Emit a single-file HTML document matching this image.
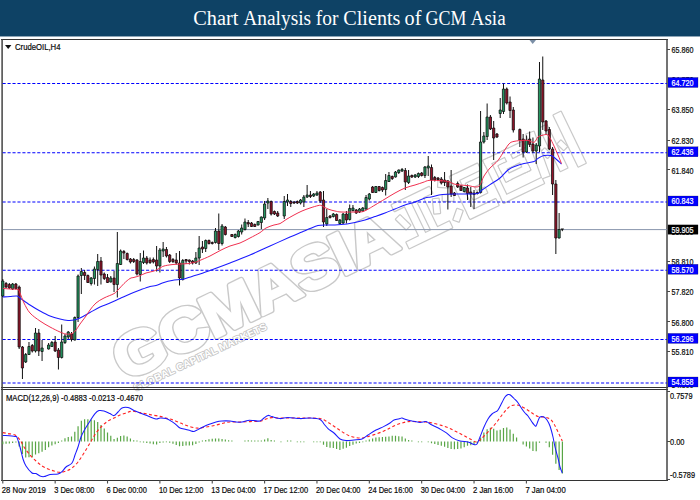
<!DOCTYPE html>
<html>
<head>
<meta charset="utf-8">
<title>Chart Analysis for Clients of GCM Asia</title>
<style>
html,body{margin:0;padding:0;background:#ffffff;}
body{width:700px;height:500px;position:relative;overflow:hidden;font-family:"Liberation Sans",sans-serif;}
#hdr{position:absolute;left:0;top:0;width:700px;height:36px;background:#0e4265;border-bottom:1px solid #8ea6b7;}
</style>
</head>
<body>
<div id="hdr"></div>
<svg width="700" height="500" viewBox="0 0 700 500" style="position:absolute;left:0;top:0">
<g id="wm" font-family="Liberation Sans, sans-serif" font-weight="bold">
<g transform="translate(125 381.5) rotate(-25.8) scale(1.12 1)"><text x="0" y="0" font-size="60" letter-spacing="-1.5" fill="#c9c9c9" stroke="#c9c9c9" stroke-width="5.2" stroke-linejoin="round">GCMASIA</text></g>
<g transform="translate(125 381.5) rotate(-25.8) scale(1.12 1)"><text x="0" y="0" font-size="60" letter-spacing="-1.5" fill="#ffffff" stroke="#ffffff" stroke-width="2.6" stroke-linejoin="round">GCMASIA</text></g>
<g transform="translate(125 381.5) rotate(-25.8)">
<g fill="#c9c9c9" stroke="#c9c9c9" stroke-width="2.4" stroke-linejoin="round"><rect x="316.85" y="-42.75" width="41.8" height="6.65"/><rect x="314" y="-2.85" width="47.5" height="6.65"/><rect x="328.25" y="-38" width="6.65" height="38"/><rect x="341.55" y="-38" width="6.65" height="38"/><rect x="316.85" y="-29.45" width="5.7" height="14.25" transform="rotate(-20 319.7 -22.32)"/><rect x="353.9" y="-29.45" width="5.7" height="14.25" transform="rotate(20 356.75 -22.32)"/><rect x="367.4" y="-41.8" width="10.45" height="5.7" transform="rotate(30 372.62 -38.95)"/><rect x="365.5" y="-27.55" width="10.45" height="5.7" transform="rotate(25 370.73 -24.7)"/><rect x="366.45" y="-7.6" width="11.4" height="5.7" transform="rotate(-45 372.15 -4.75)"/><rect x="381.65" y="-42.75" width="30.4" height="6.65"/><rect x="381.65" y="-42.75" width="6.65" height="45.6"/><rect x="381.65" y="-2.85" width="31.35" height="6.65"/><rect x="393.05" y="-29.45" width="15.2" height="5.7"/><rect x="393.05" y="-18.05" width="15.2" height="5.7"/><rect x="393.05" y="-29.45" width="5.7" height="17.1"/><rect x="418.9" y="-42.75" width="43.7" height="5.7"/><rect x="418.9" y="-42.75" width="5.7" height="46.55"/><rect x="418.9" y="-1.9" width="44.65" height="5.7"/><rect x="430.3" y="-31.35" width="26.6" height="5.7"/><rect x="430.3" y="-19.95" width="26.6" height="5.7"/><rect x="430.3" y="-31.35" width="5.7" height="17.1"/><rect x="451.2" y="-31.35" width="5.7" height="17.1"/><rect x="439.8" y="-42.75" width="5.7" height="17.1"/><rect x="466.6" y="-47.5" width="7.6" height="46.55" transform="rotate(6 470.4 -24.23)"/><rect x="483.7" y="-47.5" width="7.6" height="47.5"/><rect x="501.75" y="-53.2" width="8.07" height="57"/><rect x="476.1" y="-26.6" width="4.75" height="8.55" transform="rotate(-20 478.48 -22.32)"/><rect x="494.15" y="-26.6" width="4.75" height="8.55" transform="rotate(-20 496.52 -22.32)"/></g>
<g fill="#ffffff" stroke="none"><rect x="316.85" y="-42.75" width="41.8" height="6.65"/><rect x="314" y="-2.85" width="47.5" height="6.65"/><rect x="328.25" y="-38" width="6.65" height="38"/><rect x="341.55" y="-38" width="6.65" height="38"/><rect x="316.85" y="-29.45" width="5.7" height="14.25" transform="rotate(-20 319.7 -22.32)"/><rect x="353.9" y="-29.45" width="5.7" height="14.25" transform="rotate(20 356.75 -22.32)"/><rect x="367.4" y="-41.8" width="10.45" height="5.7" transform="rotate(30 372.62 -38.95)"/><rect x="365.5" y="-27.55" width="10.45" height="5.7" transform="rotate(25 370.73 -24.7)"/><rect x="366.45" y="-7.6" width="11.4" height="5.7" transform="rotate(-45 372.15 -4.75)"/><rect x="381.65" y="-42.75" width="30.4" height="6.65"/><rect x="381.65" y="-42.75" width="6.65" height="45.6"/><rect x="381.65" y="-2.85" width="31.35" height="6.65"/><rect x="393.05" y="-29.45" width="15.2" height="5.7"/><rect x="393.05" y="-18.05" width="15.2" height="5.7"/><rect x="393.05" y="-29.45" width="5.7" height="17.1"/><rect x="418.9" y="-42.75" width="43.7" height="5.7"/><rect x="418.9" y="-42.75" width="5.7" height="46.55"/><rect x="418.9" y="-1.9" width="44.65" height="5.7"/><rect x="430.3" y="-31.35" width="26.6" height="5.7"/><rect x="430.3" y="-19.95" width="26.6" height="5.7"/><rect x="430.3" y="-31.35" width="5.7" height="17.1"/><rect x="451.2" y="-31.35" width="5.7" height="17.1"/><rect x="439.8" y="-42.75" width="5.7" height="17.1"/><rect x="466.6" y="-47.5" width="7.6" height="46.55" transform="rotate(6 470.4 -24.23)"/><rect x="483.7" y="-47.5" width="7.6" height="47.5"/><rect x="501.75" y="-53.2" width="8.07" height="57"/><rect x="476.1" y="-26.6" width="4.75" height="8.55" transform="rotate(-20 478.48 -22.32)"/><rect x="494.15" y="-26.6" width="4.75" height="8.55" transform="rotate(-20 496.52 -22.32)"/></g>
</g>
<g transform="translate(135.5 391.5) rotate(-25.3)"><text x="0" y="0" font-size="10.2" textLength="146" lengthAdjust="spacingAndGlyphs" stroke-width="1.7" fill="#c6c6c6" stroke="#c6c6c6" stroke-linejoin="round">GLOBAL CAPITAL MARKETS</text>
<text x="0" y="0" font-size="10.2" textLength="146" lengthAdjust="spacingAndGlyphs" fill="#ffffff">GLOBAL CAPITAL MARKETS</text></g>
</g>
<g fill="none" stroke="#444444">
<path d="M1 39.5 H667.5 M1 387.5 H667.5 M1 389.5 H667.5 M1 480.5 H668" stroke="#333" stroke-width="1" shape-rendering="crispEdges"/>
<path d="M2.1 39 V481" stroke-width="1.5"/>
<path d="M667 39 V481" stroke-width="1.5"/>
</g>
<path d="M3 229.6 H667" stroke="#8895ad" stroke-width="1" fill="none"/>
<path d="M2.6 83.5 H667" stroke="#0000ff" stroke-width="1.05" stroke-dasharray="3.09 1.856" fill="none"/>
<path d="M2.6 152.8 H667" stroke="#0000ff" stroke-width="1.05" stroke-dasharray="3.09 1.856" fill="none"/>
<path d="M2.6 202 H667" stroke="#0000ff" stroke-width="1.05" stroke-dasharray="3.09 1.856" fill="none"/>
<path d="M2.6 270.3 H667" stroke="#0000ff" stroke-width="1.05" stroke-dasharray="3.09 1.856" fill="none"/>
<path d="M2.6 339.4 H667" stroke="#0000ff" stroke-width="1.05" stroke-dasharray="3.09 1.856" fill="none"/>
<path d="M2.6 383 H667" stroke="#0000ff" stroke-width="1.05" stroke-dasharray="3.09 1.856" fill="none"/>
<path d="M2.8 279 V297 M6.07 282 V288 M9.34 283 V289 M12.62 283 V290 M15.89 283 V289.5 M19.16 285.5 V349 M22.43 346 V379 M25.71 353 V363 M28.98 342 V355 M32.25 344 V352.5 M35.52 328 V352.5 M38.8 329 V356 M42.07 340 V361 M48.61 343 V349.5 M51.89 341 V347 M55.16 336 V352 M58.43 348 V369.5 M61.7 324.5 V358.5 M64.98 334 V344 M68.25 331 V339 M71.52 332 V341.5 M74.8 316.5 V340.5 M78.07 274.5 V322 M81.34 268 V294 M84.61 270 V280 M87.88 274.5 V283 M91.16 277 V285.5 M94.43 266.5 V284.5 M97.7 254 V286 M100.97 257 V284.5 M104.25 272.5 V280 M107.52 274 V283 M110.79 276 V282.5 M114.06 271 V292 M117.34 232 V297.5 M120.61 249.5 V265 M123.88 250 V259 M127.16 252.5 V260.5 M130.43 258 V263.5 M133.7 258 V263 M136.97 259 V275.5 M140.25 253 V281.5 M143.52 250.5 V264 M146.79 256 V264.5 M150.06 257.5 V264 M153.34 257.5 V263.5 M156.61 246 V271.5 M159.88 248 V272.5 M163.15 242 V257 M166.43 247 V257.5 M169.7 254 V263 M172.97 258 V263 M176.24 253 V264.5 M179.52 251 V285.5 M182.79 259 V280.5 M186.06 259 V264 M189.33 259.5 V264.5 M192.61 260 V264.5 M195.88 252 V264 M199.15 236 V265 M202.42 241 V253 M205.7 239.5 V252 M208.97 239.5 V244.5 M212.24 241.5 V244.5 M215.51 228 V243.5 M218.78 213.5 V250 M222.06 224 V245.5 M225.33 226 V235.5 M231.88 234 V237 M235.15 233.5 V238.5 M238.42 230 V237.5 M241.69 224.5 V234.5 M244.97 218.5 V230.5 M248.24 220 V227 M251.51 222 V227 M254.78 223.5 V227 M258.06 221 V225.5 M261.33 216.5 V229 M264.6 201 V220 M267.87 198 V209 M271.14 200.5 V215.5 M274.42 210.5 V215 M277.69 211 V217 M284.24 196 V219 M287.51 194 V206 M290.78 200 V207 M294.05 201 V204 M297.32 200.5 V204 M300.6 199 V204.5 M303.87 195 V207 M307.14 185 V198 M310.42 191 V198 M313.69 193 V197 M316.96 191 V196 M320.23 191 V203 M323.5 191 V227 M326.78 209 V226 M330.05 215 V218.5 M333.32 213 V217.5 M336.6 213.5 V221 M339.87 219 V224.5 M343.14 213 V224 M346.41 211 V223.5 M349.69 204.5 V220.5 M352.96 205 V211.5 M356.23 209 V214 M359.5 208 V213 M362.78 207 V212 M366.05 195 V210 M369.32 193 V200.5 M372.59 186 V193 M375.87 186 V193 M379.14 186 V191.5 M382.41 186.5 V192 M385.68 174 V195.5 M388.95 172 V182 M392.23 175.5 V180 M395.5 171 V177.5 M398.77 169.5 V174 M402.05 168 V172 M405.32 168 V190 M408.59 170 V184 M411.86 174.5 V178 M415.13 174 V178 M418.41 172.5 V178 M421.68 172 V176.5 M424.95 166 V178 M428.23 156 V176 M431.5 164.5 V195 M434.77 176 V181.5 M438.04 177 V180 M441.31 177 V184.5 M444.59 172 V186 M447.86 180 V209.5 M451.13 170 V197 M454.41 192 V196 M457.68 181.5 V188 M460.95 185 V191 M464.22 187 V192.5 M467.5 184.5 V200 M470.77 187 V207 M474.04 190 V209 M477.31 191.5 V194.5 M480.58 111 V193.5 M483.86 132 V143.5 M487.13 103.5 V140 M490.4 115 V130 M493.68 121 V160 M496.95 133 V138 M500.22 98 V118 M503.49 83.5 V114 M506.76 87.5 V104.5 M510.04 96.5 V118 M513.31 107 V132.5 M519.85 128.5 V147 M523.13 134 V157.5 M526.4 135.5 V153 M529.67 131.5 V147 M532.94 137.5 V153 M536.22 143 V164 M539.49 62 V152 M542.76 56.5 V130 M546.03 120 V135 M549.31 127 V150 M552.58 147 V195 M555.85 180 V254 M559.12 213 V238.5" stroke="#111" stroke-width="1" fill="none"/>
<path d="M1.7 281 h2.2 V296 h-2.2 Z M11.52 284 h2.2 V289 h-2.2 Z M24.61 354.5 h2.2 V362 h-2.2 Z M27.88 346.5 h2.2 V354.5 h-2.2 Z M34.42 333 h2.2 V351 h-2.2 Z M40.97 348 h2.2 V351.5 h-2.2 Z M47.51 345 h2.2 V349 h-2.2 Z M50.79 342.5 h2.2 V346.5 h-2.2 Z M60.6 342 h2.2 V357.5 h-2.2 Z M63.88 336 h2.2 V342.5 h-2.2 Z M67.15 332 h2.2 V337 h-2.2 Z M73.7 317.5 h2.2 V340 h-2.2 Z M76.97 276 h2.2 V317.5 h-2.2 Z M80.24 271.5 h2.2 V275.5 h-2.2 Z M90.06 278 h2.2 V283.5 h-2.2 Z M93.33 269 h2.2 V278.5 h-2.2 Z M96.6 261.5 h2.2 V269.5 h-2.2 Z M109.69 278 h2.2 V282 h-2.2 Z M116.24 263.5 h2.2 V284.5 h-2.2 Z M119.51 251 h2.2 V264.5 h-2.2 Z M139.15 261.5 h2.2 V274.5 h-2.2 Z M142.42 258 h2.2 V262.5 h-2.2 Z M158.78 250 h2.2 V266 h-2.2 Z M162.05 249 h2.2 V251 h-2.2 Z M181.69 260.5 h2.2 V279.5 h-2.2 Z M194.78 258 h2.2 V263 h-2.2 Z M198.05 248 h2.2 V258 h-2.2 Z M204.6 240.5 h2.2 V248.5 h-2.2 Z M214.41 231 h2.2 V242.5 h-2.2 Z M220.96 226 h2.2 V243.5 h-2.2 Z M234.05 234.5 h2.2 V237.5 h-2.2 Z M237.32 231 h2.2 V236.5 h-2.2 Z M240.59 228 h2.2 V232 h-2.2 Z M243.87 222 h2.2 V229.5 h-2.2 Z M256.95 221.5 h2.2 V225 h-2.2 Z M260.23 217 h2.2 V222.5 h-2.2 Z M263.5 204 h2.2 V218 h-2.2 Z M266.77 201 h2.2 V203 h-2.2 Z M283.13 201.5 h2.2 V216 h-2.2 Z M286.41 200 h2.2 V202 h-2.2 Z M299.5 200 h2.2 V203 h-2.2 Z M302.77 197 h2.2 V202 h-2.2 Z M306.04 195 h2.2 V197 h-2.2 Z M312.59 194 h2.2 V196 h-2.2 Z M315.86 193 h2.2 V195 h-2.2 Z M325.68 217.5 h2.2 V224 h-2.2 Z M332.22 214 h2.2 V216.5 h-2.2 Z M338.77 220 h2.2 V223.5 h-2.2 Z M342.04 214 h2.2 V223 h-2.2 Z M348.58 208.5 h2.2 V219.5 h-2.2 Z M351.86 208 h2.2 V210.5 h-2.2 Z M358.4 209 h2.2 V212 h-2.2 Z M361.68 208 h2.2 V211 h-2.2 Z M364.95 197.5 h2.2 V209 h-2.2 Z M368.22 194 h2.2 V199 h-2.2 Z M374.76 186.5 h2.2 V192.5 h-2.2 Z M384.58 180.5 h2.2 V189.5 h-2.2 Z M387.85 175.5 h2.2 V181.5 h-2.2 Z M394.4 172 h2.2 V177 h-2.2 Z M397.67 170 h2.2 V172.5 h-2.2 Z M400.94 169.5 h2.2 V171 h-2.2 Z M407.49 176 h2.2 V182.5 h-2.2 Z M414.03 175 h2.2 V177 h-2.2 Z M417.31 173.5 h2.2 V176.5 h-2.2 Z M423.85 167 h2.2 V175.5 h-2.2 Z M427.12 166 h2.2 V168 h-2.2 Z M463.12 187.5 h2.2 V191.5 h-2.2 Z M479.48 142 h2.2 V192.5 h-2.2 Z M482.76 136 h2.2 V142 h-2.2 Z M486.03 117 h2.2 V136.5 h-2.2 Z M499.12 110 h2.2 V113.5 h-2.2 Z M502.39 89 h2.2 V111.5 h-2.2 Z M525.3 140 h2.2 V152 h-2.2 Z M535.12 145 h2.2 V151 h-2.2 Z M538.39 79 h2.2 V146 h-2.2 Z M558.02 229.5 h2.2 V238 h-2.2 Z" fill="#249660" stroke="#0c0c0c" stroke-width="0.75"/>
<path d="M4.97 283.5 h2.2 V287 h-2.2 Z M8.24 284.5 h2.2 V288 h-2.2 Z M14.79 284 h2.2 V288.5 h-2.2 Z M18.06 287 h2.2 V347 h-2.2 Z M21.33 347 h2.2 V368 h-2.2 Z M31.15 345.5 h2.2 V351 h-2.2 Z M37.7 333 h2.2 V351 h-2.2 Z M54.06 342 h2.2 V351 h-2.2 Z M57.33 350 h2.2 V357.5 h-2.2 Z M70.42 334 h2.2 V339.5 h-2.2 Z M83.51 272.5 h2.2 V275.5 h-2.2 Z M86.78 275.5 h2.2 V282.5 h-2.2 Z M99.88 261 h2.2 V275 h-2.2 Z M103.15 274 h2.2 V278.5 h-2.2 Z M106.42 277.5 h2.2 V282.5 h-2.2 Z M112.97 278 h2.2 V284.5 h-2.2 Z M122.78 251.5 h2.2 V253 h-2.2 Z M126.06 253.5 h2.2 V259.5 h-2.2 Z M129.33 259 h2.2 V262 h-2.2 Z M132.6 259.5 h2.2 V261.5 h-2.2 Z M135.87 260 h2.2 V274 h-2.2 Z M145.69 258 h2.2 V263 h-2.2 Z M148.96 260 h2.2 V262.5 h-2.2 Z M152.24 259.5 h2.2 V262 h-2.2 Z M155.51 260 h2.2 V266 h-2.2 Z M165.33 249.5 h2.2 V256 h-2.2 Z M168.6 255 h2.2 V261.5 h-2.2 Z M171.87 259.5 h2.2 V261.5 h-2.2 Z M175.14 260 h2.2 V263 h-2.2 Z M178.42 263 h2.2 V278 h-2.2 Z M184.96 259.5 h2.2 V261 h-2.2 Z M188.23 260 h2.2 V261.5 h-2.2 Z M191.51 261 h2.2 V263 h-2.2 Z M201.32 247 h2.2 V249 h-2.2 Z M207.87 240.5 h2.2 V243.5 h-2.2 Z M211.14 242.5 h2.2 V243.5 h-2.2 Z M217.69 231 h2.2 V243.5 h-2.2 Z M224.23 227 h2.2 V234.5 h-2.2 Z M230.78 234.5 h2.2 V236.5 h-2.2 Z M247.14 222.5 h2.2 V224 h-2.2 Z M250.41 223 h2.2 V226.5 h-2.2 Z M253.68 224.5 h2.2 V226.5 h-2.2 Z M270.04 201.5 h2.2 V214 h-2.2 Z M273.32 211.5 h2.2 V214 h-2.2 Z M276.59 213 h2.2 V216 h-2.2 Z M289.68 201.5 h2.2 V203.5 h-2.2 Z M292.95 202 h2.2 V203 h-2.2 Z M296.22 201.5 h2.2 V203 h-2.2 Z M309.31 195 h2.2 V196.5 h-2.2 Z M319.13 192 h2.2 V201 h-2.2 Z M322.4 200 h2.2 V222 h-2.2 Z M328.95 216 h2.2 V217.5 h-2.2 Z M335.5 214.5 h2.2 V220.5 h-2.2 Z M345.31 214 h2.2 V220 h-2.2 Z M355.13 210 h2.2 V213 h-2.2 Z M371.49 187 h2.2 V192.5 h-2.2 Z M378.04 186.5 h2.2 V190.5 h-2.2 Z M381.31 187.5 h2.2 V190 h-2.2 Z M391.13 176.5 h2.2 V178.5 h-2.2 Z M404.22 170.5 h2.2 V182 h-2.2 Z M410.76 175.5 h2.2 V177 h-2.2 Z M420.58 173 h2.2 V175.5 h-2.2 Z M430.4 167.5 h2.2 V180 h-2.2 Z M433.67 177.5 h2.2 V180 h-2.2 Z M436.94 178 h2.2 V179.5 h-2.2 Z M440.21 179 h2.2 V183 h-2.2 Z M443.49 180 h2.2 V182.5 h-2.2 Z M446.76 181 h2.2 V187 h-2.2 Z M450.03 186 h2.2 V194 h-2.2 Z M453.31 193 h2.2 V195.5 h-2.2 Z M456.58 183.5 h2.2 V187 h-2.2 Z M459.85 186 h2.2 V190.5 h-2.2 Z M466.39 188 h2.2 V193.5 h-2.2 Z M469.67 192 h2.2 V194 h-2.2 Z M472.94 193 h2.2 V194.5 h-2.2 Z M476.21 192.5 h2.2 V193.5 h-2.2 Z M489.3 117 h2.2 V129 h-2.2 Z M492.57 128 h2.2 V138 h-2.2 Z M495.85 134 h2.2 V137 h-2.2 Z M505.66 89 h2.2 V103 h-2.2 Z M508.94 102 h2.2 V110.5 h-2.2 Z M512.21 110 h2.2 V130 h-2.2 Z M518.75 129.5 h2.2 V140 h-2.2 Z M522.03 139 h2.2 V152 h-2.2 Z M528.57 139 h2.2 V144.5 h-2.2 Z M531.84 144 h2.2 V151 h-2.2 Z M541.66 80 h2.2 V122 h-2.2 Z M544.93 121 h2.2 V131 h-2.2 Z M548.21 129.5 h2.2 V149 h-2.2 Z M551.48 149 h2.2 V184 h-2.2 Z M554.75 184 h2.2 V238 h-2.2 Z" fill="#93142a" stroke="#0c0c0c" stroke-width="0.75"/>
<path d="M560.6 228.6 H564 L562.3 231.4 Z" fill="#111"/>
<path d="M2.8 297 C4 296.9 7.63 296.57 10 296.4 C12.37 296.23 15.33 295.73 17 296 C18.67 296.27 17.83 296.5 20 298 C22.17 299.5 26.67 302.83 30 305 C33.33 307.17 36.67 309.17 40 311 C43.33 312.83 46.67 314.67 50 316 C53.33 317.33 57 318.27 60 319 C63 319.73 65.67 320.23 68 320.4 C70.33 320.57 72 320.4 74 320 C76 319.6 77.33 319.25 80 318 C82.67 316.75 86.67 314.33 90 312.5 C93.33 310.67 96.67 308.58 100 307 C103.33 305.42 106.67 304.42 110 303 C113.33 301.58 116.67 300 120 298.5 C123.33 297 126.67 295.42 130 294 C133.33 292.58 136.67 291.27 140 290 C143.33 288.73 147.33 287.13 150 286.4 C152.67 285.67 153.67 286.27 156 285.6 C158.33 284.93 161.33 283.27 164 282.4 C166.67 281.53 169.33 280.87 172 280.4 C174.67 279.93 178 279.83 180 279.6 C182 279.37 182 279.53 184 279 C186 278.47 189.33 277.23 192 276.4 C194.67 275.57 196.33 275.23 200 274 C203.67 272.77 209 270.83 214 269 C219 267.17 224 265.33 230 263 C236 260.67 243.33 257.83 250 255 C256.67 252.17 263.33 249 270 246 C276.67 243 284.67 239.33 290 237 C295.33 234.67 298.67 233.4 302 232 C305.33 230.6 307.33 229.67 310 228.6 C312.67 227.53 315.33 226.2 318 225.6 C320.67 225 323.17 225.1 326 225 C328.83 224.9 331.5 225.17 335 225 C338.5 224.83 343.67 224.4 347 224 C350.33 223.6 352 223.27 355 222.6 C358 221.93 361.67 221 365 220 C368.33 219 371.67 217.77 375 216.6 C378.33 215.43 381.67 214.27 385 213 C388.33 211.73 391.67 210.33 395 209 C398.33 207.67 401.67 206.17 405 205 C408.33 203.83 411.67 203.17 415 202 C418.33 200.83 422.33 198.83 425 198 C427.67 197.17 428.67 197.5 431 197 C433.33 196.5 436.33 195.47 439 195 C441.67 194.53 443.5 194.37 447 194.2 C450.5 194.03 455 194.1 460 194 C465 193.9 473.33 194.27 477 193.6 C480.67 192.93 479.83 191.5 482 190 C484.17 188.5 487 186.6 490 184.6 C493 182.6 497 180.43 500 178 C503 175.57 505.33 172 508 170 C510.67 168 513.33 167.07 516 166 C518.67 164.93 521 164.33 524 163.6 C527 162.87 531.67 162.47 534 161.6 C536.33 160.73 536.33 159.4 538 158.4 C539.67 157.4 541.83 156.07 544 155.6 C546.17 155.13 549 155.03 551 155.6 C553 156.17 554.25 157.6 556 159 C557.75 160.4 560.58 163.17 561.5 164" stroke="#1a1aff" stroke-width="1.05" fill="none" stroke-linejoin="round"/>
<path d="M2.8 288.4 C4 288.5 7.47 288.8 10 289 C12.53 289.2 16.33 288.93 18 289.6 C19.67 290.27 19 290.77 20 293 C21 295.23 22.33 299.67 24 303 C25.67 306.33 27.33 310 30 313 C32.67 316 36.67 318.67 40 321 C43.33 323.33 46.67 325.17 50 327 C53.33 328.83 57.33 330.83 60 332 C62.67 333.17 64 333.73 66 334 C68 334.27 70.33 334.27 72 333.6 C73.67 332.93 74.67 331.6 76 330 C77.33 328.4 78.33 326.33 80 324 C81.67 321.67 84.33 318.33 86 316 C87.67 313.67 88.33 312.17 90 310 C91.67 307.83 93.67 305 96 303 C98.33 301 101 299.57 104 298 C107 296.43 111.67 294.93 114 293.6 C116.33 292.27 116.33 291.68 118 290 C119.67 288.32 122 285.42 124 283.5 C126 281.58 128.33 279.52 130 278.5 C131.67 277.48 132.33 277.88 134 277.4 C135.67 276.92 138 276.33 140 275.6 C142 274.87 143.67 273.77 146 273 C148.33 272.23 151.67 271.83 154 271 C156.33 270.17 158.33 268.83 160 268 C161.67 267.17 162 266.57 164 266 C166 265.43 169.33 264.93 172 264.6 C174.67 264.27 177.33 264.17 180 264 C182.67 263.83 185.33 263.93 188 263.6 C190.67 263.27 194 262.53 196 262 C198 261.47 197.67 261.4 200 260.4 C202.33 259.4 206.67 257.63 210 256 C213.33 254.37 216.67 252.27 220 250.6 C223.33 248.93 226.67 247.27 230 246 C233.33 244.73 236.67 244.33 240 243 C243.33 241.67 246.67 239.73 250 238 C253.33 236.27 257.33 234.27 260 232.6 C262.67 230.93 263.67 229.27 266 228 C268.33 226.73 271.67 225.73 274 225 C276.33 224.27 278 224.5 280 223.6 C282 222.7 283.67 221.03 286 219.6 C288.33 218.17 291.33 216.43 294 215 C296.67 213.57 299.33 212.17 302 211 C304.67 209.83 307.33 208.9 310 208 C312.67 207.1 316.17 206.03 318 205.6 C319.83 205.17 320 205.17 321 205.4 C322 205.63 322.67 206.33 324 207 C325.33 207.67 327.17 208.73 329 209.4 C330.83 210.07 333 210.57 335 211 C337 211.43 337.67 211.83 341 212 C344.33 212.17 351.33 212.07 355 212 C358.67 211.93 360.67 212.17 363 211.6 C365.33 211.03 367 209.7 369 208.6 C371 207.5 372.33 206.6 375 205 C377.67 203.4 381.67 201 385 199 C388.33 197 391.67 194.83 395 193 C398.33 191.17 401.67 189.33 405 188 C408.33 186.67 412 185.93 415 185 C418 184.07 420.67 183.17 423 182.4 C425.33 181.63 426.33 180.7 429 180.4 C431.67 180.1 435.83 180.43 439 180.6 C442.17 180.77 445.5 180.83 448 181.4 C450.5 181.97 452 183.4 454 184 C456 184.6 457.67 184.73 460 185 C462.33 185.27 465.33 185.27 468 185.6 C470.67 185.93 474 187.1 476 187 C478 186.9 478.67 186.83 480 185 C481.33 183.17 482.33 178.83 484 176 C485.67 173.17 488 170.23 490 168 C492 165.77 494.33 164.33 496 162.6 C497.67 160.87 498.33 160.03 500 157.6 C501.67 155.17 504.33 150.43 506 148 C507.67 145.57 508.67 144.1 510 143 C511.33 141.9 512.33 141.8 514 141.4 C515.67 141 517.67 140.77 520 140.6 C522.33 140.43 525.67 140.1 528 140.4 C530.33 140.7 532.33 142.97 534 142.4 C535.67 141.83 536.67 138.17 538 137 C539.33 135.83 540.5 135.8 542 135.4 C543.5 135 545.67 134.17 547 134.6 C548.33 135.03 548.83 136.1 550 138 C551.17 139.9 552.67 143.17 554 146 C555.33 148.83 556.75 152.07 558 155 C559.25 157.93 560.92 162.17 561.5 163.6" stroke="#f03050" stroke-width="1" fill="none" stroke-linejoin="round"/>
<path d="M2.8 441.4 V444.2 M6.07 441.4 V443.84 M9.34 441.4 V443.47 M12.62 441.4 V443.08 M15.89 441.4 V442.44 M19.16 441.4 V446.61 M22.43 441.4 V453.88 M25.71 441.4 V457.44 M28.98 441.4 V457.24 M32.25 441.4 V457.19 M35.52 441.4 V454.4 M38.8 441.4 V453.35 M42.07 441.4 V451.68 M45.34 441.4 V449.88 M48.61 441.4 V447.26 M51.89 441.4 V445.56 M55.16 441.4 V444.34 M58.43 441.4 V443.11 M61.7 441.4 V440.6 M64.98 441.4 V438.34 M68.25 441.4 V437.02 M71.52 441.4 V436.48 M74.8 441.4 V431.74 M78.07 441.4 V426.28 M81.34 441.4 V420.73 M84.61 441.4 V419.2 M87.88 441.4 V419.26 M91.16 441.4 V419.62 M94.43 441.4 V420.23 M97.7 441.4 V421.96 M100.97 441.4 V424.96 M104.25 441.4 V428.38 M107.52 441.4 V432.53 M110.79 441.4 V435.79 M114.06 441.4 V438.97 M117.34 441.4 V437.66 M120.61 441.4 V435.99 M123.88 441.4 V435.57 M127.16 441.4 V436.4 M130.43 441.4 V438.46 M133.7 441.4 V440.16 M136.97 441.4 V440.6 M140.25 441.4 V442.2 M143.52 441.4 V442.42 M146.79 441.4 V442.99 M150.06 441.4 V443.56 M153.34 441.4 V444.2 M156.61 441.4 V444.46 M159.88 441.4 V443.05 M163.15 441.4 V442.47 M166.43 441.4 V442.2 M169.7 441.4 V442.86 M172.97 441.4 V443.74 M176.24 441.4 V444.91 M179.52 441.4 V446.33 M182.79 441.4 V445.98 M186.06 441.4 V445.53 M189.33 441.4 V445.42 M192.61 441.4 V445.31 M195.88 441.4 V443.98 M199.15 441.4 V442.39 M202.42 441.4 V440.6 M205.7 441.4 V440.07 M208.97 441.4 V439.31 M212.24 441.4 V438.71 M215.51 441.4 V438.38 M218.78 441.4 V438.55 M222.06 441.4 V438.88 M225.33 441.4 V439.62 M228.6 441.4 V440.17 M231.88 441.4 V440.6 M244.97 441.4 V440.6 M248.24 441.4 V440.14 M251.51 441.4 V440.38 M254.78 441.4 V440.6 M258.06 441.4 V440.6 M261.33 441.4 V440.6 M264.6 441.4 V439.5 M267.87 441.4 V438.32 M271.14 441.4 V439.94 M274.42 441.4 V440.6 M280.96 441.4 V442.2 M287.51 441.4 V440.6 M290.78 441.4 V440.6 M297.32 441.4 V442.2 M300.6 441.4 V442.2 M303.87 441.4 V442.2 M313.69 441.4 V442.2 M316.96 441.4 V442.2 M320.23 441.4 V442.37 M323.5 441.4 V444.83 M326.78 441.4 V447.08 M330.05 441.4 V447.8 M333.32 441.4 V448.02 M336.6 441.4 V448.93 M339.87 441.4 V450.02 M343.14 441.4 V448.81 M346.41 441.4 V447.76 M349.69 441.4 V445.88 M352.96 441.4 V444.69 M356.23 441.4 V443.51 M359.5 441.4 V442.88 M362.78 441.4 V442.2 M366.05 441.4 V440.6 M369.32 441.4 V439.4 M372.59 441.4 V438.42 M375.87 441.4 V437.44 M379.14 441.4 V437.16 M382.41 441.4 V436.92 M385.68 441.4 V436.69 M388.95 441.4 V436.47 M392.23 441.4 V435.84 M395.5 441.4 V435.8 M398.77 441.4 V436.21 M402.05 441.4 V436.43 M405.32 441.4 V438.5 M408.59 441.4 V440 M411.86 441.4 V440.6 M418.41 441.4 V442.2 M421.68 441.4 V442.2 M428.23 441.4 V442.2 M431.5 441.4 V443.2 M434.77 441.4 V444.09 M438.04 441.4 V444.91 M441.31 441.4 V445.76 M444.59 441.4 V446.66 M447.86 441.4 V448 M451.13 441.4 V449.11 M454.41 441.4 V449.22 M457.68 441.4 V448.97 M460.95 441.4 V448.44 M464.22 441.4 V447.21 M467.5 441.4 V445.81 M470.77 441.4 V445.28 M474.04 441.4 V444.97 M477.31 441.4 V443.33 M480.58 441.4 V437.52 M483.86 441.4 V432.61 M487.13 441.4 V429.27 M490.4 441.4 V427.87 M493.68 441.4 V428.68 M496.95 441.4 V430.51 M500.22 441.4 V429.86 M503.49 441.4 V427.9 M506.76 441.4 V427.55 M510.04 441.4 V429.46 M513.31 441.4 V433.86 M516.58 441.4 V437.5 M523.13 441.4 V444.44 M526.4 441.4 V446.53 M529.67 441.4 V448.46 M532.94 441.4 V451.06 M536.22 441.4 V451.33 M539.49 441.4 V442.72 M546.03 441.4 V442.76 M549.31 441.4 V447.25 M552.58 441.4 V454.63 M555.85 441.4 V463.82 M559.12 441.4 V470.11 M562.4 441.4 V473.4" stroke="#58a545" stroke-width="1.2" fill="none"/>
<path d="M2.8 432.6 C3.67 432.77 5.97 433.2 8 433.6 C10.03 434 13 433.93 15 435 C17 436.07 18.5 438 20 440 C21.5 442 22.33 444.5 24 447 C25.67 449.5 28 452.67 30 455 C32 457.33 34 459.17 36 461 C38 462.83 40 464.67 42 466 C44 467.33 46 468.17 48 469 C50 469.83 52 470.43 54 471 C56 471.57 58 472.4 60 472.4 C62 472.4 64 471.73 66 471 C68 470.27 70 469.5 72 468 C74 466.5 76 464.5 78 462 C80 459.5 82 456.17 84 453 C86 449.83 88 446.33 90 443 C92 439.67 94 435.83 96 433 C98 430.17 100 428 102 426 C104 424 106 422.33 108 421 C110 419.67 112 419 114 418 C116 417 118 415.83 120 415 C122 414.17 124 413.63 126 413 C128 412.37 129.67 411.27 132 411.2 C134.33 411.13 137 412.03 140 412.6 C143 413.17 146.67 413.97 150 414.6 C153.33 415.23 157.33 415.83 160 416.4 C162.67 416.97 164 417.47 166 418 C168 418.53 170 418.93 172 419.6 C174 420.27 176 421.17 178 422 C180 422.83 182 423.83 184 424.6 C186 425.37 188 426.03 190 426.6 C192 427.17 194.33 427.77 196 428 C197.67 428.23 198.33 428.17 200 428 C201.67 427.83 204 427.33 206 427 C208 426.67 210 426.4 212 426 C214 425.6 216 425.1 218 424.6 C220 424.1 222 423.43 224 423 C226 422.57 227.33 422.17 230 422 C232.67 421.83 236.67 422.07 240 422 C243.33 421.93 246.67 421.73 250 421.6 C253.33 421.47 257.33 421.63 260 421.2 C262.67 420.77 264 419.6 266 419 C268 418.4 269.67 417.77 272 417.6 C274.33 417.43 275.33 417.93 280 418 C284.67 418.07 295 418 300 418 C305 418 306.67 417.9 310 418 C313.33 418.1 317.33 418.1 320 418.6 C322.67 419.1 324 419.93 326 421 C328 422.07 330 423.67 332 425 C334 426.33 336 427.67 338 429 C340 430.33 342 431.83 344 433 C346 434.17 348 435.23 350 436 C352 436.77 354 437.27 356 437.6 C358 437.93 360 438.17 362 438 C364 437.83 365.67 437.27 368 436.6 C370.33 435.93 373.33 434.93 376 434 C378.67 433.07 381.67 432 384 431 C386.33 430 388 429 390 428 C392 427 394 425.83 396 425 C398 424.17 400 423.57 402 423 C404 422.43 405.67 421.83 408 421.6 C410.33 421.37 413 421.53 416 421.6 C419 421.67 423.33 421.77 426 422 C428.67 422.23 429.67 422.5 432 423 C434.33 423.5 437.33 424.23 440 425 C442.67 425.77 445.33 426.5 448 427.6 C450.67 428.7 453.33 430.27 456 431.6 C458.67 432.93 461.33 434.2 464 435.6 C466.67 437 470 438.93 472 440 C474 441.07 474.67 442 476 442 C477.33 442 478.67 441 480 440 C481.33 439 482.33 437.67 484 436 C485.67 434.33 488 432.17 490 430 C492 427.83 494 425.5 496 423 C498 420.5 500 417.5 502 415 C504 412.5 506.33 409.57 508 408 C509.67 406.43 510.67 406.1 512 405.6 C513.33 405.1 514.67 404.97 516 405 C517.33 405.03 518.33 405.13 520 405.8 C521.67 406.47 524 407.8 526 409 C528 410.2 530 411.73 532 413 C534 414.27 536 415.93 538 416.6 C540 417.27 542 416.6 544 417 C546 417.4 548.33 417.83 550 419 C551.67 420.17 552.67 421.83 554 424 C555.33 426.17 556.62 429.17 558 432 C559.38 434.83 561.58 439.5 562.3 441" stroke="#ff2020" stroke-width="1.1" stroke-dasharray="3 2.4" fill="none"/>
<path d="M2.8 435.4 C4.83 435.57 12.63 436.03 15 436.4 C17.37 436.77 16.17 435.83 17 437.6 C17.83 439.37 19 443.43 20 447 C21 450.57 22 455.83 23 459 C24 462.17 24.5 463.67 26 466 C27.5 468.33 30.33 471.73 32 473 C33.67 474.27 34.67 473.1 36 473.6 C37.33 474.1 38.67 475.5 40 476 C41.33 476.5 42.33 476.83 44 476.6 C45.67 476.37 47.67 475.03 50 474.6 C52.33 474.17 56 474.5 58 474 C60 473.5 60.67 472.77 62 471.6 C63.33 470.43 64.33 468.43 66 467 C67.67 465.57 70.5 465 72 463 C73.5 461 74 457.67 75 455 C76 452.33 77 450 78 447 C79 444 79.83 440 81 437 C82.17 434 83.5 431.67 85 429 C86.5 426.33 88.33 423.57 90 421 C91.67 418.43 93.5 415.33 95 413.6 C96.5 411.87 97.5 411.03 99 410.6 C100.5 410.17 102.17 410.5 104 411 C105.83 411.5 108.33 412.83 110 413.6 C111.67 414.37 112.67 415.87 114 415.6 C115.33 415.33 116.67 413.27 118 412 C119.33 410.73 120.33 408.73 122 408 C123.67 407.27 126 407.2 128 407.6 C130 408 132 409.5 134 410.4 C136 411.3 137.67 412.07 140 413 C142.33 413.93 145.33 415 148 416 C150.67 417 154 418.67 156 419 C158 419.33 158.33 418.07 160 418 C161.67 417.93 164 418 166 418.6 C168 419.2 170.33 420.6 172 421.6 C173.67 422.6 174.67 423.53 176 424.6 C177.33 425.67 178.33 427.2 180 428 C181.67 428.8 184.33 428.97 186 429.4 C187.67 429.83 188.67 430.27 190 430.6 C191.33 430.93 192.67 431.57 194 431.4 C195.33 431.23 196.33 430.43 198 429.6 C199.67 428.77 202 427.33 204 426.4 C206 425.47 208 424.73 210 424 C212 423.27 214 422.5 216 422 C218 421.5 219.67 421.17 222 421 C224.33 420.83 227.67 420.83 230 421 C232.33 421.17 234 421.83 236 422 C238 422.17 240 422.27 242 422 C244 421.73 246 420.63 248 420.4 C250 420.17 252 420.5 254 420.6 C256 420.7 258.33 421.43 260 421 C261.67 420.57 262.67 418.93 264 418 C265.33 417.07 266.67 415.63 268 415.4 C269.33 415.17 270 416.07 272 416.6 C274 417.13 277.33 418.47 280 418.6 C282.67 418.73 284.67 417.4 288 417.4 C291.33 417.4 296.33 418.5 300 418.6 C303.67 418.7 306.67 417.87 310 418 C313.33 418.13 317.67 418.4 320 419.4 C322.33 420.4 322.67 422.47 324 424 C325.33 425.53 326.33 427.1 328 428.6 C329.67 430.1 332 431.27 334 433 C336 434.73 338 437.73 340 439 C342 440.27 343.67 440.43 346 440.6 C348.33 440.77 351.33 440.27 354 440 C356.67 439.73 359.67 439.83 362 439 C364.33 438.17 365.67 436.5 368 435 C370.33 433.5 373.33 431.43 376 430 C378.67 428.57 381.67 427.57 384 426.4 C386.33 425.23 388.33 424.07 390 423 C391.67 421.93 392.33 420.73 394 420 C395.67 419.27 398.67 418.93 400 418.6 C401.33 418.27 401 417.83 402 418 C403 418.17 404.33 419.1 406 419.6 C407.67 420.1 409.67 420.53 412 421 C414.33 421.47 417.67 422.3 420 422.4 C422.33 422.5 424 421.17 426 421.6 C428 422.03 429.67 423.77 432 425 C434.33 426.23 437.67 427.73 440 429 C442.33 430.27 444 431.17 446 432.6 C448 434.03 449.67 436.2 452 437.6 C454.33 439 457.33 440.27 460 441 C462.67 441.73 465.67 441.4 468 442 C470.33 442.6 472.5 444.27 474 444.6 C475.5 444.93 476 445.27 477 444 C478 442.73 478.83 439.83 480 437 C481.17 434.17 482.67 430 484 427 C485.33 424 486.67 421.17 488 419 C489.33 416.83 490.67 415.23 492 414 C493.33 412.77 495 412.27 496 411.6 C497 410.93 497 411.52 498 410 C499 408.48 500.83 404.67 502 402.5 C503.17 400.33 504 398.32 505 397 C506 395.68 507.17 394.97 508 394.6 C508.83 394.23 509 394.15 510 394.8 C511 395.45 512.67 397.18 514 398.5 C515.33 399.82 516.67 400.95 518 402.7 C519.33 404.45 520.83 407.28 522 409 C523.17 410.72 524 411.83 525 413 C526 414.17 526.83 414.5 528 416 C529.17 417.5 531 420.57 532 422 C533 423.43 533.33 423.93 534 424.6 C534.67 425.27 535.33 426.6 536 426 C536.67 425.4 537.33 422.5 538 421 C538.67 419.5 539 417.67 540 417 C541 416.33 542.83 416.5 544 417 C545.17 417.5 546 418.5 547 420 C548 421.5 549 423.17 550 426 C551 428.83 552.17 433.5 553 437 C553.83 440.5 554.17 443.5 555 447 C555.83 450.5 557.17 454.67 558 458 C558.83 461.33 559.28 464.5 560 467 C560.72 469.5 561.92 472 562.3 473" stroke="#1a1aff" stroke-width="1.05" fill="none" stroke-linejoin="round"/>
<path d="M529.5 40 H536 L532.7 44 Z" fill="#7b8fa6"/>
<path d="M667 49.5 h2.6 M667 109.5 h2.6 M667 140.5 h2.6 M667 169.5 h2.6 M667 261.5 h2.6 M667 291.5 h2.6 M667 321.5 h2.6 M667 351.5 h2.6 M667 391.5 h3 M667 441.5 h3 M667 479.5 h3" stroke="#4a4a4a" stroke-width="1" fill="none" shape-rendering="crispEdges"/>
<path d="M2.8 480 v3.6 M55.16 480 v3.6 M107.52 480 v3.6 M159.88 480 v3.6 M212.24 480 v3.6 M264.6 480 v3.6 M316.96 480 v3.6 M369.32 480 v3.6 M421.68 480 v3.6 M474.04 480 v3.6 M526.4 480 v3.6" stroke="#4a4a4a" stroke-width="1.1" fill="none"/>
<g font-family="Liberation Sans, sans-serif" font-size="9.2" fill="#0a0a0a" stroke="#0a0a0a" stroke-width="0.22">
<text x="671.5" y="52.8" textLength="22" lengthAdjust="spacingAndGlyphs">65.860</text>
<text x="671.5" y="113.3" textLength="22" lengthAdjust="spacingAndGlyphs">63.850</text>
<text x="671.5" y="144.3" textLength="22" lengthAdjust="spacingAndGlyphs">62.830</text>
<text x="671.5" y="173.8" textLength="22" lengthAdjust="spacingAndGlyphs">61.840</text>
<text x="671.5" y="265" textLength="22" lengthAdjust="spacingAndGlyphs">58.810</text>
<text x="671.5" y="294.8" textLength="22" lengthAdjust="spacingAndGlyphs">57.820</text>
<text x="671.5" y="325.5" textLength="22" lengthAdjust="spacingAndGlyphs">56.800</text>
<text x="671.5" y="355.3" textLength="22" lengthAdjust="spacingAndGlyphs">55.810</text>
<text x="671.5" y="83.2" textLength="22" lengthAdjust="spacingAndGlyphs">64.870</text>
<text x="671.5" y="235.3" textLength="22" lengthAdjust="spacingAndGlyphs">59.830</text>
<text x="671.5" y="387.6" textLength="22" lengthAdjust="spacingAndGlyphs">54.800</text>
<rect x="668" y="77.5" width="30" height="10" fill="#0000ff"/>
<text x="671.5" y="85.8" textLength="22" lengthAdjust="spacingAndGlyphs" fill="#fff" stroke="#fff">64.720</text>
<rect x="668" y="146.8" width="30" height="10" fill="#0000ff"/>
<text x="671.5" y="155.1" textLength="22" lengthAdjust="spacingAndGlyphs" fill="#fff" stroke="#fff">62.436</text>
<rect x="668" y="196" width="30" height="10" fill="#0000ff"/>
<text x="671.5" y="204.3" textLength="22" lengthAdjust="spacingAndGlyphs" fill="#fff" stroke="#fff">60.843</text>
<rect x="668" y="264.3" width="30" height="10" fill="#0000ff"/>
<text x="671.5" y="272.6" textLength="22" lengthAdjust="spacingAndGlyphs" fill="#fff" stroke="#fff">58.570</text>
<rect x="668" y="333.4" width="30" height="10" fill="#0000ff"/>
<text x="671.5" y="341.7" textLength="22" lengthAdjust="spacingAndGlyphs" fill="#fff" stroke="#fff">56.296</text>
<rect x="668" y="377" width="30" height="10" fill="#0000ff"/>
<text x="671.5" y="385.3" textLength="22" lengthAdjust="spacingAndGlyphs" fill="#fff" stroke="#fff">54.858</text>
<rect x="668" y="224.9" width="30" height="9.4" fill="#000"/>
<text x="671.5" y="233" textLength="22" lengthAdjust="spacingAndGlyphs" fill="#fff" stroke="#fff">59.905</text>
<text x="670" y="399.3" textLength="22.5" lengthAdjust="spacingAndGlyphs">0.7579</text>
<text x="670" y="444.8" textLength="14.5" lengthAdjust="spacingAndGlyphs">0.00</text>
<text x="670" y="478.3" textLength="25" lengthAdjust="spacingAndGlyphs">-0.5789</text>
<text x="1.8" y="493" textLength="44" lengthAdjust="spacingAndGlyphs">28 Nov 2019</text>
<text x="54.16" y="493" textLength="40.3" lengthAdjust="spacingAndGlyphs">3 Dec 08:00</text>
<text x="106.52" y="493" textLength="40.3" lengthAdjust="spacingAndGlyphs">6 Dec 00:00</text>
<text x="158.88" y="493" textLength="44.5" lengthAdjust="spacingAndGlyphs">10 Dec 12:00</text>
<text x="211.24" y="493" textLength="44.5" lengthAdjust="spacingAndGlyphs">13 Dec 04:00</text>
<text x="263.6" y="493" textLength="44.5" lengthAdjust="spacingAndGlyphs">17 Dec 12:00</text>
<text x="315.96" y="493" textLength="44.5" lengthAdjust="spacingAndGlyphs">20 Dec 04:00</text>
<text x="368.32" y="493" textLength="44.5" lengthAdjust="spacingAndGlyphs">24 Dec 16:00</text>
<text x="420.68" y="493" textLength="44.5" lengthAdjust="spacingAndGlyphs">30 Dec 04:00</text>
<text x="473.04" y="493" textLength="40.3" lengthAdjust="spacingAndGlyphs">2 Jan 16:00</text>
<text x="525.4" y="493" textLength="40.3" lengthAdjust="spacingAndGlyphs">7 Jan 04:00</text>
<text x="15" y="50.2" textLength="45.5" lengthAdjust="spacingAndGlyphs">CrudeOIL,H4</text>
<text x="6" y="401" textLength="137" lengthAdjust="spacingAndGlyphs">MACD(12,26,9) -0.4883 -0.0213 -0.4670</text>
</g>
<path d="M5 45 H11.4 L8.2 49 Z" fill="#111"/>
<g font-family="Liberation Serif, serif" font-size="20" fill="#ffffff">
<text x="193.35" y="24.8" textLength="45.05" lengthAdjust="spacingAndGlyphs">Chart</text>
<text x="243.35" y="24.8" textLength="67.8" lengthAdjust="spacingAndGlyphs">Analysis</text>
<text x="315.85" y="24.8" textLength="22.55" lengthAdjust="spacingAndGlyphs">for</text>
<text x="343.35" y="24.8" textLength="57.05" lengthAdjust="spacingAndGlyphs">Clients</text>
<text x="404.6" y="24.8" textLength="16.8" lengthAdjust="spacingAndGlyphs">of</text>
<text x="425.6" y="24.8" textLength="40.8" lengthAdjust="spacingAndGlyphs">GCM</text>
<text x="470.6" y="24.8" textLength="35.1" lengthAdjust="spacingAndGlyphs">Asia</text>
</g>
</svg>
</body>
</html>
